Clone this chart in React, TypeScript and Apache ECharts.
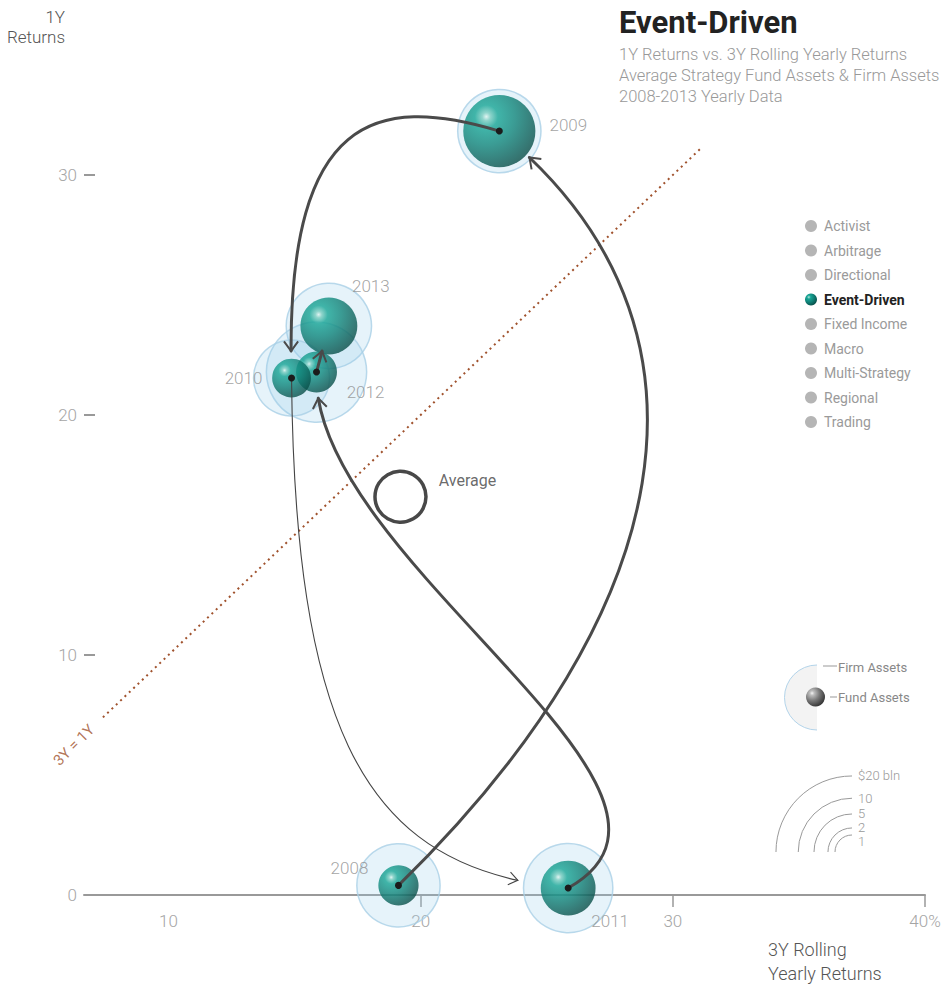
import React, { useEffect, useRef } from 'react';
import * as echarts from 'echarts';

// ---------- data ----------
const YEARS = ['2008', '2009', '2010', '2011', '2012', '2013'];
const ROLLING_3Y = [19.12, 23.12, 14.88, 25.85, 15.87, 16.36];
const RETURN_1Y = [0.4, 31.83, 21.54, 0.29, 21.79, 23.71];
const FUND_ASSETS = [1.4, 4.5, 1.3, 2.6, 1.45, 2.8];
const FIRM_ASSETS = [6.0, 6.0, 5.0, 6.9, 8.7, 6.3];

const STRATEGIES = ['Activist', 'Arbitrage', 'Directional', 'Event-Driven', 'Fixed Income', 'Macro', 'Multi-Strategy', 'Regional', 'Trading'];
const ACTIVE_STRATEGY = 'Event-Driven';

const X_LABELS = [10, 20, 30, 40];
const X_TICKS = [20, 30, 40];
const Y_LABELS = [0, 10, 20, 30];
const SIZE_LEGEND = [20, 10, 5, 2, 1];
const DIAG_RANGE = [7.4, 31.15];
const DIAG_LABEL_AT = 6.25;

const TITLE = 'Event-Driven';
const SUBTITLES = ['1Y Returns vs. 3Y Rolling Yearly Returns', 'Average Strategy Fund Assets & Firm Assets', '2008-2013 Yearly Data'];

// ---------- style ----------
const FONT = 'Roboto, "Noto Sans", sans-serif';
const R_SCALE = 17;
const rad = (v: number) => R_SCALE * Math.sqrt(v);
const LABEL_OFFSETS = [[-49, -17], [69, -6], [-48, 0], [42, 33], [49, 20], [42, -40]];
// control points in data space (curve shape), tip = distance of arrow tip from target centre (px)
const CURVES: any[] = [
  { cp1: [31.08, 12.71], cp2: [31.87, 24.38], tip: 40, width: 3 },
  { cp1: [17.99, 33.46], cp2: [14.58, 32.29], tip: 26, width: 3 },
  { cp1: [15.02, 5.63], cp2: [18.39, 1.04], tip: 50, width: 1.1 },
  { cp1: [32.66, 4.3], cp2: [15.61, 13.96], tip: 26, width: 3 },
  { cp1: null, cp2: null, tip: 26, width: 3 },
];

const tealSphere = () =>
  new echarts.graphic.RadialGradient(0.32, 0.3, 0.8, [
    { offset: 0, color: '#def4f0' },
    { offset: 0.07, color: '#7acdc0' },
    { offset: 0.2, color: '#17a595' },
    { offset: 0.5, color: '#10857a' },
    { offset: 0.8, color: '#0b6059' },
    { offset: 1, color: '#084842' },
  ]);
const greySphere = () =>
  new echarts.graphic.RadialGradient(0.32, 0.3, 0.78, [
    { offset: 0, color: '#f4f4f4' },
    { offset: 0.15, color: '#bdbdbd' },
    { offset: 0.5, color: '#7a7a7a' },
    { offset: 1, color: '#2e2e2e' },
  ]);

type P = number[];
const lerp = (a: P, b: P, t: number) => [a[0] + (b[0] - a[0]) * t, a[1] + (b[1] - a[1]) * t];
const bez = (p0: P, p1: P, p2: P, p3: P, t: number) => {
  const u = 1 - t;
  return [
    u * u * u * p0[0] + 3 * u * u * t * p1[0] + 3 * u * t * t * p2[0] + t * t * t * p3[0],
    u * u * u * p0[1] + 3 * u * u * t * p1[1] + 3 * u * t * t * p2[1] + t * t * t * p3[1],
  ];
};
const dist = (a: P, b: P) => Math.hypot(a[0] - b[0], a[1] - b[1]);

function buildOption() {
  const order = FUND_ASSETS.map((_, i) => i).sort((a, b) => FUND_ASSETS[b] - FUND_ASSETS[a]);
  const n = YEARS.length;
  const avgX = ROLLING_3Y.reduce((s, v) => s + v, 0) / n;
  const avgY = RETURN_1Y.reduce((s, v) => s + v, 0) / n;

  const graphic: any[] = [];
  // title
  graphic.push({ type: 'text', x: 619, y: 22, style: { text: TITLE, font: `bold 31px ${FONT}`, fill: '#222', verticalAlign: 'middle' } });
  SUBTITLES.forEach((s, i) =>
    graphic.push({ type: 'text', x: 619, y: 54 + i * 21, style: { text: s, font: `300 16.5px ${FONT}`, fill: '#999', verticalAlign: 'middle' } })
  );
  // axis names
  graphic.push({ type: 'text', x: 65, y: 17, style: { text: '1Y', font: `300 17px ${FONT}`, fill: '#555', align: 'right', verticalAlign: 'middle' } });
  graphic.push({ type: 'text', x: 65, y: 37, style: { text: 'Returns', font: `300 17px ${FONT}`, fill: '#555', align: 'right', verticalAlign: 'middle' } });
  graphic.push({ type: 'text', x: 768, y: 949, style: { text: '3Y Rolling', font: `300 18px ${FONT}`, fill: '#555', verticalAlign: 'middle' } });
  graphic.push({ type: 'text', x: 768, y: 973, style: { text: 'Yearly Returns', font: `300 18px ${FONT}`, fill: '#555', verticalAlign: 'middle' } });
  // strategy legend
  STRATEGIES.forEach((s, i) => {
    const y = 226 + i * 24.5;
    const active = s === ACTIVE_STRATEGY;
    graphic.push({ type: 'circle', shape: { cx: 811, cy: y, r: 6 }, style: { fill: active ? tealSphere() : '#b5b5b5' } });
    graphic.push({
      type: 'text', x: 824, y,
      style: { text: s, font: `${active ? 'bold' : 'normal'} 14px ${FONT}`, fill: active ? '#222' : '#9a9a9a', verticalAlign: 'middle' },
    });
  });
  // firm / fund legend
  graphic.push({ type: 'sector', shape: { cx: 817, cy: 697.5, r: 32.5, r0: 0, startAngle: Math.PI / 2, endAngle: (Math.PI * 3) / 2, clockwise: true }, style: { fill: '#f3f3f3' } });
  graphic.push({ type: 'arc', shape: { cx: 817, cy: 697.5, r: 32.5, startAngle: Math.PI / 2, endAngle: (Math.PI * 3) / 2, clockwise: true }, style: { stroke: '#b3d4ea', lineWidth: 1, fill: 'none' } });
  graphic.push({ type: 'circle', shape: { cx: 815.5, cy: 697, r: 9.5 }, style: { fill: greySphere() } });
  graphic.push({ type: 'line', shape: { x1: 823, y1: 666, x2: 837, y2: 666 }, style: { stroke: '#999', lineWidth: 1 } });
  graphic.push({ type: 'line', shape: { x1: 830, y1: 697, x2: 837, y2: 697 }, style: { stroke: '#999', lineWidth: 1 } });
  graphic.push({ type: 'text', x: 838, y: 667, style: { text: 'Firm Assets', font: `13px ${FONT}`, fill: '#888', verticalAlign: 'middle' } });
  graphic.push({ type: 'text', x: 838, y: 697, style: { text: 'Fund Assets', font: `13px ${FONT}`, fill: '#888', verticalAlign: 'middle' } });
  // size legend
  const scx = 852, scy = 852;
  let prevY = -1e9;
  SIZE_LEGEND.forEach((v, i) => {
    const r = rad(v);
    graphic.push({ type: 'arc', shape: { cx: scx, cy: scy, r, startAngle: Math.PI, endAngle: Math.PI * 1.5, clockwise: true }, style: { stroke: '#9a9a9a', lineWidth: 1, fill: 'none' } });
    const ly = Math.max(scy - r, prevY + 14);
    prevY = ly;
    graphic.push({ type: 'text', x: scx + 6, y: ly, style: { text: i === 0 ? `$${v} bln` : String(v), font: `300 13px ${FONT}`, fill: '#999', verticalAlign: 'middle' } });
  });

  const series: any[] = [
    // identity line
    {
      type: 'line',
      data: [[DIAG_RANGE[0], DIAG_RANGE[0]], [DIAG_RANGE[1], DIAG_RANGE[1]]],
      symbol: 'none',
      silent: true,
      z: 1,
      lineStyle: { color: '#a0522d', width: 2, type: [2, 4] },
    },
    {
      type: 'scatter',
      data: [[DIAG_LABEL_AT, DIAG_LABEL_AT]],
      symbolSize: 1,
      clip: false,
      silent: true,
      z: 1,
      itemStyle: { color: 'rgba(0,0,0,0)' },
      label: { show: true, position: 'inside', formatter: '3Y = 1Y', rotate: 45, color: '#a0522d', fontSize: 15, fontFamily: FONT },
    },
    // halos (firm assets)
    {
      type: 'scatter',
      clip: false,
      silent: true,
      z: 2,
      data: order.map((i) => ({
        value: [ROLLING_3Y[i], RETURN_1Y[i]],
        symbolSize: 2 * rad(FIRM_ASSETS[i]),
        label: { show: true, position: 'inside', offset: LABEL_OFFSETS[i], formatter: YEARS[i], color: '#8c8c8c', fontSize: 17, fontWeight: 300, fontFamily: FONT },
      })),
      itemStyle: { color: 'rgba(150,205,235,0.3)', borderColor: '#a9cfe6', borderWidth: 1.5 },
    },
    // average
    {
      type: 'scatter',
      clip: false,
      silent: true,
      z: 2,
      data: [[avgX, avgY]],
      symbolSize: 51,
      itemStyle: { color: 'rgba(0,0,0,0)', borderColor: '#1a1a1a', borderWidth: 3.5 },
      label: { show: true, position: 'right', distance: 11, offset: [0, -16], formatter: 'Average', color: '#444', fontSize: 16, fontFamily: FONT },
    },
    // spheres (fund assets)
    {
      type: 'scatter',
      clip: false,
      silent: true,
      z: 3,
      data: order.map((i) => ({ value: [ROLLING_3Y[i], RETURN_1Y[i]], symbolSize: 2 * rad(FUND_ASSETS[i]) })),
      itemStyle: { color: tealSphere() },
    },
    // transitions
    {
      type: 'custom',
      coordinateSystem: 'cartesian2d',
      silent: true,
      z: 5,
      clip: false,
      data: CURVES.map((_, i) => [ROLLING_3Y[i], RETURN_1Y[i], i]),
      renderItem: (params: any, api: any) => {
        const i = api.value(2);
        const c = CURVES[i];
        const p0 = api.coord([ROLLING_3Y[i], RETURN_1Y[i]]);
        const p3 = api.coord([ROLLING_3Y[i + 1], RETURN_1Y[i + 1]]);
        const p1 = c.cp1 ? api.coord(c.cp1) : lerp(p0, p3, 1 / 3);
        const p2 = c.cp2 ? api.coord(c.cp2) : lerp(p0, p3, 2 / 3);
        let t = 1;
        while (t > 0.01 && dist(bez(p0, p1, p2, p3, t), p3) < c.tip) t -= 0.002;
        const a = lerp(p0, p1, t), b = lerp(p1, p2, t), cc = lerp(p2, p3, t);
        const d = lerp(a, b, t), e = lerp(b, cc, t), f = lerp(d, e, t);
        let dx = f[0] - d[0], dy = f[1] - d[1];
        const L = Math.hypot(dx, dy) || 1;
        dx /= L; dy /= L;
        const ang = (36 * Math.PI) / 180, len = c.width > 2 ? 12 : 11;
        const arm = (s: number) => {
          const bx = -dx, by = -dy;
          const cs = Math.cos(s * ang), sn = Math.sin(s * ang);
          return [f[0] + len * (bx * cs - by * sn), f[1] + len * (bx * sn + by * cs)];
        };
        const stroke = c.width > 2 ? '#4a4a4a' : '#444';
        return {
          type: 'group',
          children: [
            {
              type: 'bezierCurve',
              shape: { x1: p0[0], y1: p0[1], cpx1: a[0], cpy1: a[1], cpx2: d[0], cpy2: d[1], x2: f[0], y2: f[1] },
              style: { fill: 'none', stroke, lineWidth: c.width, lineCap: 'round' },
            },
            {
              type: 'polyline',
              shape: { points: [arm(1), f, arm(-1)] },
              style: { fill: 'none', stroke, lineWidth: c.width > 2 ? 2 : 1.1, lineJoin: 'miter' },
            },
            { type: 'circle', shape: { cx: p0[0], cy: p0[1], r: 3.5 }, style: { fill: '#1b1b1b' } },
          ],
        };
      },
    },
  ];

  return {
    animation: false,
    backgroundColor: '#fff',
    textStyle: { fontFamily: FONT },
    grid: { left: 84, right: 19, top: 55, bottom: 89, containLabel: false },
    xAxis: {
      type: 'value',
      min: 6.65,
      max: 40,
      splitLine: { show: false },
      axisLine: { show: true, lineStyle: { color: '#999', width: 2 } },
      axisTick: { show: true, customValues: X_TICKS, length: 12, lineStyle: { color: '#999', width: 1.5 } },
      axisLabel: { customValues: X_LABELS, formatter: (v: number) => (v === 40 ? '40%' : String(v)), color: '#a5a5a5', fontSize: 17, fontWeight: 300, margin: 17 },
    },
    yAxis: {
      type: 'value',
      min: 0,
      max: 35,
      splitLine: { show: false },
      axisLine: { show: false },
      axisTick: { show: true, inside: true, customValues: Y_LABELS, length: 11, lineStyle: { color: '#999', width: 2 } },
      axisLabel: { customValues: Y_LABELS, color: '#a5a5a5', fontSize: 17, fontWeight: 300, margin: 7 },
    },
    graphic,
    series,
  };
}

export default function App() {
  const ref = useRef<HTMLDivElement>(null);
  useEffect(() => {
    const chart = echarts.init(ref.current!, null, { renderer: 'svg' });
    chart.setOption(buildOption() as any);
    return () => chart.dispose();
  }, []);
  return <div ref={ref} style={{ position: 'absolute', left: 0, top: 0, width: 944, height: 984 }} />;
}
